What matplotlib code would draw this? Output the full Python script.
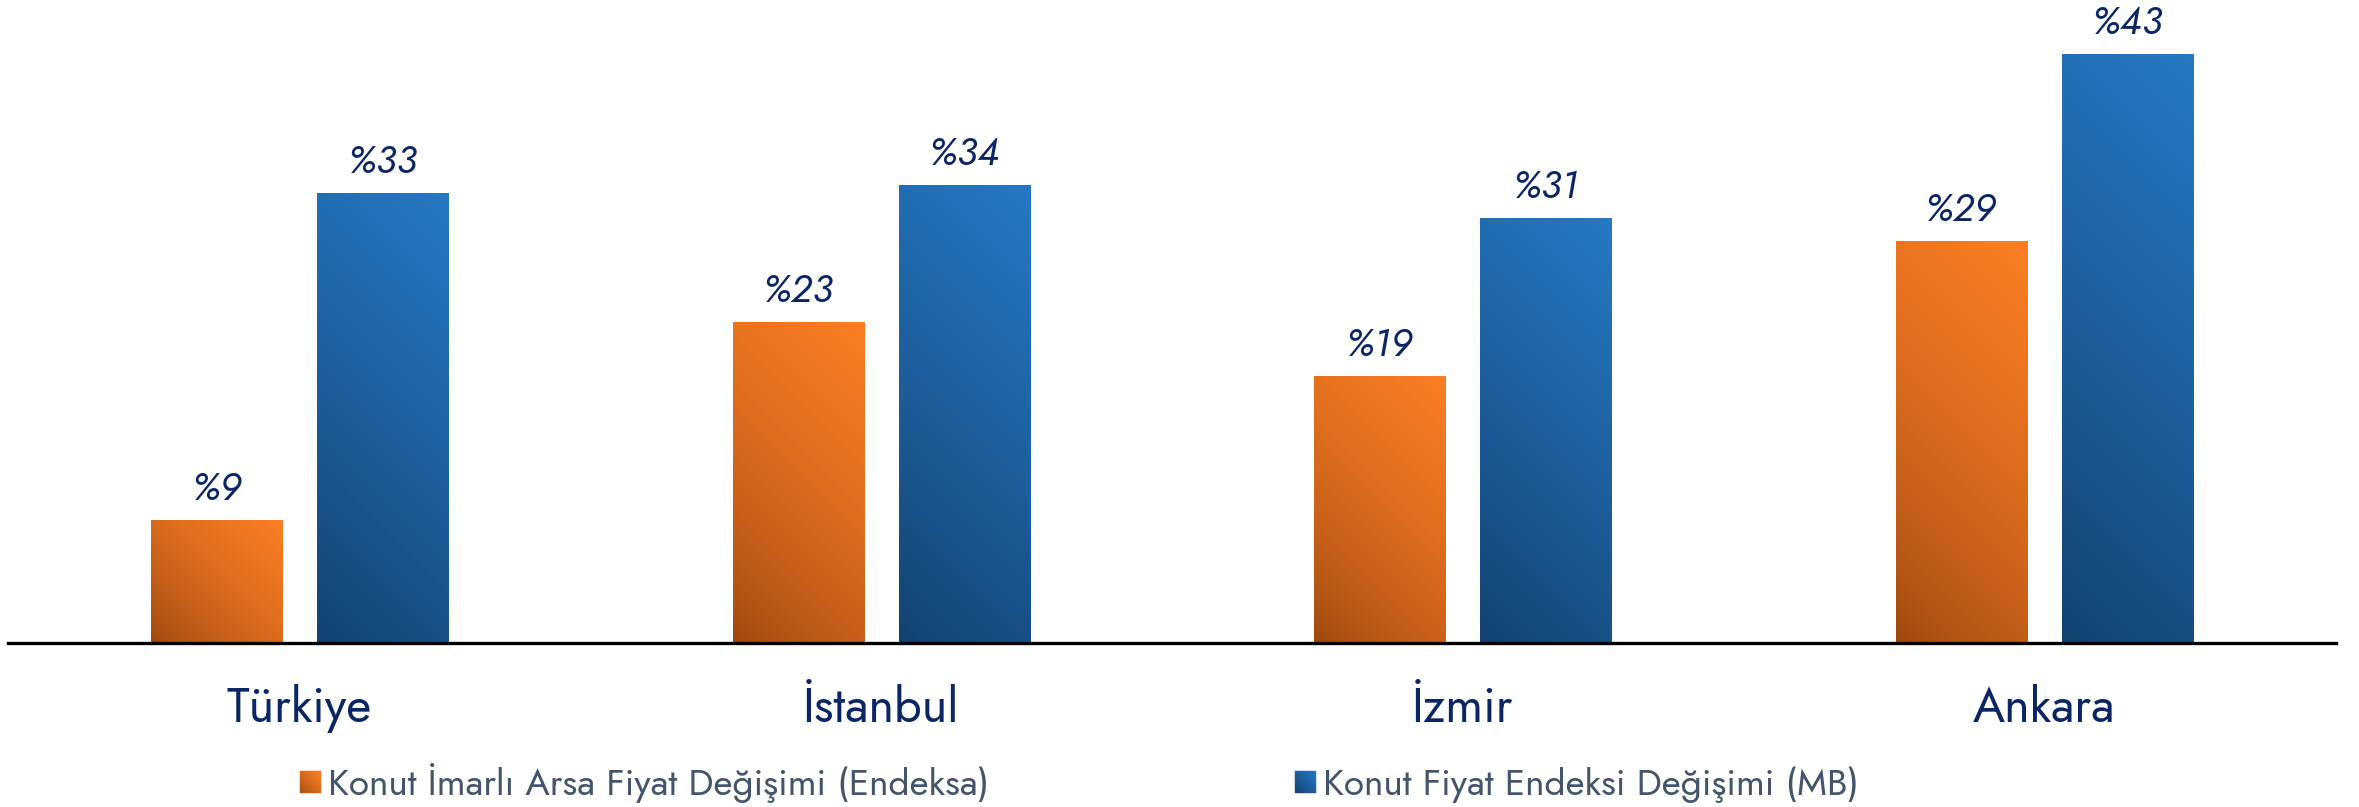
import numpy as np
import matplotlib
matplotlib.use("Agg")
import matplotlib.pyplot as plt
from matplotlib import font_manager
from matplotlib.patches import Rectangle
from matplotlib.legend_handler import HandlerBase

# ---- data ----
categories = ["Türkiye", "İstanbul", "İzmir", "Ankara"]
# bar heights
arsa_values = [9.0, 23.6, 19.6, 29.5]      # Konut İmarlı Arsa Fiyat Değişimi (Endeksa)
konut_values = [33.0, 33.6, 31.2, 43.2]    # Konut Fiyat Endeksi Değişimi (MB)
# data labels as printed on the chart
arsa_labels = ["%9", "%23", "%19", "%29"]
konut_labels = ["%33", "%34", "%31", "%43"]
series_names = ["Konut İmarlı Arsa Fiyat Değişimi (Endeksa)",
                "Konut Fiyat Endeksi Değişimi (MB)"]

# ---- styles ----
ORANGE_DARK = np.array([150, 68, 14]) / 255
ORANGE_LIGHT = np.array([251, 126, 36]) / 255
BLUE_DARK = np.array([18, 66, 112]) / 255
BLUE_LIGHT = np.array([38, 121, 196]) / 255
NAVY = "#0B2565"
LEG_COLOR = "#44546A"

available = {f.name for f in font_manager.fontManager.ttflist}
GEO = "Jost" if "Jost" in available else "DejaVu Sans"

W, H, DPI = 2359, 807, 100
fig = plt.figure(figsize=(W / DPI, H / DPI), dpi=DPI)
ax = fig.add_axes([8 / W, (H - 643) / H, (2336 - 8) / W, 643 / H])

x = np.arange(len(categories))
bw = 0.2253
off = 0.1427
b1 = ax.bar(x - off, arsa_values, bw, facecolor="none", edgecolor="none")
b2 = ax.bar(x + off, konut_values, bw, facecolor="none", edgecolor="none")

ax.set_xlim(-0.5013, 3.502)
ax.set_ylim(0, 47.2)


def grad_color(c0, c1, t, gamma):
    t = np.clip(t, 0, 1) ** gamma
    return c0[None, None, :] * (1 - t[..., None]) + c1[None, None, :] * t[..., None]


fig.canvas.draw()
for bars, c0, c1, gamma in [(b1, ORANGE_DARK, ORANGE_LIGHT, 0.6),
                            (b2, BLUE_DARK, BLUE_LIGHT, 0.9)]:
    for rect in bars:
        x0, y0 = rect.get_x(), rect.get_y()
        w, h = rect.get_width(), rect.get_height()
        p0 = ax.transData.transform((x0, y0))
        p1 = ax.transData.transform((x0 + w, y0 + h))
        wpx, hpx = p1[0] - p0[0], p1[1] - p0[1]
        nx, ny = 120, 300
        u = np.linspace(0, 1, nx)[None, :] * wpx
        v = np.linspace(0, 1, ny)[:, None] * hpx
        t = (u + v) / (wpx + hpx)
        img = grad_color(c0, c1, t, gamma)
        im = ax.imshow(img, extent=(x0, x0 + w, y0, y0 + h), origin="lower",
                       aspect="auto", interpolation="bilinear", zorder=2)
        im.set_clip_path(rect)

ax.set_xlim(-0.5013, 3.502)
ax.set_ylim(0, 47.2)

# value labels
for bars, vals, labs in [(b1, arsa_values, arsa_labels), (b2, konut_values, konut_labels)]:
    for rect, v, lab in zip(bars, vals, labs):
        ax.annotate(lab, xy=(rect.get_x() + rect.get_width() / 2, v),
                    xytext=(0, 20 * 0.72), textcoords="offset points",
                    ha="center", va="baseline", fontsize=28, style="italic",
                    family=GEO, color=NAVY, zorder=5)

# axes styling
for s in ["top", "right", "left"]:
    ax.spines[s].set_visible(False)
ax.spines["bottom"].set_linewidth(2.4)
ax.spines["bottom"].set_color("black")
ax.spines["bottom"].set_zorder(6)
ax.set_yticks([])
ax.set_xticks(x)
ax.set_xticklabels(categories, va="baseline", fontsize=35, family=GEO,
                   fontweight="medium", color=NAVY)
ax.tick_params(axis="x", length=0, pad=79 * 0.72)


# gradient legend handles
class GradHandler(HandlerBase):
    def __init__(self, c0, c1, gamma):
        super().__init__()
        self.c0, self.c1, self.gamma = c0, c1, gamma

    def create_artists(self, legend, orig_handle, xdescent, ydescent, width,
                       height, fontsize, trans):
        n = 10
        arts = []
        for i in range(n):
            for j in range(n):
                t = ((i + 0.5) / n + (j + 0.5) / n) / 2
                t = t ** self.gamma
                col = self.c0 * (1 - t) + self.c1 * t
                r = Rectangle((-xdescent + i * width / n, -ydescent + j * height / n),
                              width / n, height / n, facecolor=col, edgecolor=col,
                              lw=0.3, transform=trans)
                arts.append(r)
        return arts


h1 = Rectangle((0, 0), 1, 1)
h2 = Rectangle((0, 0), 1, 1)
fs_leg = 26.6
fs_px = fs_leg / 0.72
leg = fig.legend([h1, h2], series_names, loc="center left",
                 bbox_to_anchor=(300 / W, 1 - 783 / H), bbox_transform=fig.transFigure,
                 ncol=2, frameon=False, borderpad=0, borderaxespad=0,
                 handlelength=21 / fs_px, handleheight=21 / fs_px,
                 handletextpad=7 / fs_px, columnspacing=306 / fs_px,
                 prop={"family": GEO, "size": fs_leg},
                 handler_map={h1: GradHandler(ORANGE_DARK, ORANGE_LIGHT, 0.6),
                              h2: GradHandler(BLUE_DARK, BLUE_LIGHT, 0.9)})
for t in leg.get_texts():
    t.set_color(LEG_COLOR)

fig.savefig("out.png", dpi=DPI, facecolor="white")
